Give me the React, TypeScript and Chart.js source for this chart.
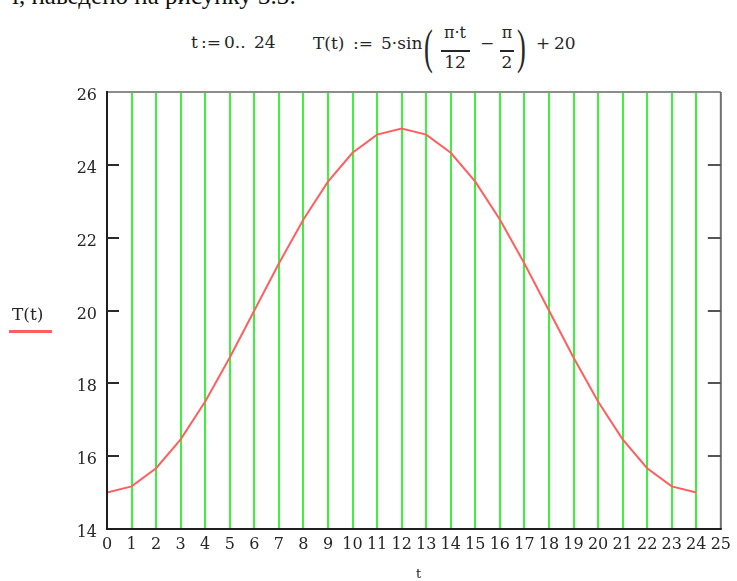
import React, { useEffect, useRef } from "react";
import { Chart, registerables } from "chart.js";

Chart.register(...registerables);

// t := 0..24, daily temperature curve
const hours = [0, 1, 2, 3, 4, 5, 6, 7, 8, 9, 10, 11, 12, 13, 14, 15, 16, 17, 18, 19, 20, 21, 22, 23, 24];
const temperatures = [
  15, 15.17, 15.67, 16.46, 17.5, 18.71, 20, 21.29, 22.5, 23.54, 24.33, 24.83, 25,
  24.83, 24.33, 23.54, 22.5, 21.29, 20, 18.71, 17.5, 16.46, 15.67, 15.17, 15,
];
const xTickValues = [0, 1, 2, 3, 4, 5, 6, 7, 8, 9, 10, 11, 12, 13, 14, 15, 16, 17, 18, 19, 20, 21, 22, 23, 24, 25];
const yTickValues = [14, 16, 18, 20, 22, 24, 26];

const SERIF = "'DejaVu Serif', 'Liberation Serif', serif";
const INK = "#262626";
const GRID_GREEN = "rgb(60, 242, 60)";
const CURVE_RED = "rgb(255, 95, 95)";

// Frame around the plot with inward ticks on both value axes (Mathcad style)
const framePlugin = {
  id: "mathcadFrame",
  afterDatasetsDraw(chart: any) {
    const { ctx, chartArea } = chart;
    const { left, right, top, bottom } = chartArea;
    const y = chart.scales.y;
    ctx.save();
    ctx.lineWidth = 2;
    // top and right edges are grey
    ctx.strokeStyle = "#8c8c8c";
    ctx.beginPath();
    ctx.moveTo(left, top);
    ctx.lineTo(right, top);
    ctx.stroke();
    ctx.strokeStyle = "#707070";
    ctx.beginPath();
    ctx.moveTo(right, top);
    ctx.lineTo(right, bottom);
    ctx.stroke();
    // left and bottom axes are dark
    ctx.strokeStyle = "#1e1e1e";
    ctx.beginPath();
    ctx.moveTo(left, top - 1);
    ctx.lineTo(left, bottom);
    ctx.lineTo(right + 1, bottom);
    ctx.stroke();
    // inward ticks
    for (const v of yTickValues) {
      if (v === y.min || v === y.max) continue;
      const py = Math.round(y.getPixelForValue(v));
      ctx.strokeStyle = "#2a2a2a";
      ctx.beginPath();
      ctx.moveTo(left, py);
      ctx.lineTo(left + 12, py);
      ctx.stroke();
      ctx.strokeStyle = "#555";
      ctx.beginPath();
      ctx.moveTo(right, py);
      ctx.lineTo(right - 13, py);
      ctx.stroke();
    }
    ctx.restore();
  },
};

type TxtProps = {
  x: number;
  base: number;
  size: number;
  children: React.ReactNode;
  center?: boolean;
  family?: string;
  color?: string;
  scaleX?: number;
  spacing?: number;
};

function Txt({ x, base, size, children, center, family, color, scaleX, spacing }: TxtProps) {
  const transforms: string[] = [];
  if (center) transforms.push("translateX(-50%)");
  if (scaleX) transforms.push(`scaleX(${scaleX})`);
  return (
    <div
      style={{
        position: "absolute",
        left: x,
        top: base - size * 0.84,
        fontSize: size,
        lineHeight: `${size}px`,
        fontFamily: family || SERIF,
        color: color || INK,
        whiteSpace: "nowrap",
        transform: transforms.join(" ") || undefined,
        transformOrigin: "left top",
        letterSpacing: spacing,
      }}
    >
      {children}
    </div>
  );
}

function Bar({ x1, x2, y }: { x1: number; x2: number; y: number }) {
  return <div style={{ position: "absolute", left: x1, top: y, width: x2 - x1, height: 1.5, background: INK }} />;
}

export default function App() {
  const canvasRef = useRef<HTMLCanvasElement>(null);

  useEffect(() => {
    if (!canvasRef.current) return;
    const chart = new Chart(canvasRef.current, {
      type: "line",
      data: {
        datasets: [
          {
            label: "T(t)",
            data: hours.map((t, i) => ({ x: t, y: temperatures[i] })),
            borderColor: CURVE_RED,
            borderWidth: 2,
            pointRadius: 0,
            tension: 0,
            fill: false,
          },
        ],
      },
      options: {
        animation: false,
        responsive: false,
        devicePixelRatio: 1,
        layout: { padding: { left: 0, top: 92, right: 13.5, bottom: 0 } },
        plugins: {
          legend: { display: false },
          tooltip: { enabled: false },
        },
        scales: {
          x: {
            type: "linear",
            min: 0,
            max: 25,
            afterBuildTicks: (s: any) => {
              s.ticks = xTickValues.map((v) => ({ value: v }));
            },
            afterFit: (s: any) => {
              s.height = 52;
            },
            border: { display: false },
            grid: {
              drawTicks: false,
              lineWidth: 2,
              color: (c: any) => (c.tick && c.tick.value >= 1 && c.tick.value <= 24 ? GRID_GREEN : "rgba(0,0,0,0)"),
            },
            ticks: {
              autoSkip: false,
              maxRotation: 0,
              minRotation: 0,
              padding: 6,
              color: INK,
              font: { family: SERIF, size: 16 },
              callback: (v: any) => String(v),
            },
          },
          y: {
            type: "linear",
            min: 14,
            max: 26,
            afterBuildTicks: (s: any) => {
              s.ticks = yTickValues.map((v) => ({ value: v }));
            },
            afterFit: (s: any) => {
              s.width = 107;
            },
            border: { display: false },
            grid: { display: false, drawTicks: false },
            ticks: {
              padding: 10,
              labelOffset: 4,
              color: INK,
              font: { family: SERIF, size: 16 },
              callback: (v: any) => String(v),
            },
          },
        },
      },
      plugins: [framePlugin],
    });
    return () => chart.destroy();
  }, []);

  return (
    <div
      style={{
        position: "absolute",
        left: 0,
        top: 0,
        width: 737,
        height: 581,
        overflow: "hidden",
        background: "#fff",
      }}
    >
      {/* running text of the page, its top cut by the page edge */}
      <Txt x={12} base={4} size={25} family="'Liberation Serif', serif" color="#111">
        і, наведено на рисунку 3.3:
      </Txt>

      {/* definitions */}
      <Txt x={191} base={48} size={17}>t</Txt>
      <Txt x={201} base={48} size={17}>:=</Txt>
      <Txt x={224} base={48} size={17}>0..</Txt>
      <Txt x={254} base={48} size={17}>24</Txt>

      <Txt x={313} base={49} size={17}>T(t)</Txt>
      <Txt x={353} base={49} size={17}>:=</Txt>
      <Txt x={381} base={49} size={17}>5·sin</Txt>
      <Txt x={424} base={63} size={48} scaleX={0.55} family="'Liberation Serif', serif">(</Txt>
      <Txt x={455} base={38} size={16} center>π·t</Txt>
      <Bar x1={441} x2={470} y={50} />
      <Txt x={455} base={68} size={17} center>12</Txt>
      <Txt x={480} base={49} size={17}>−</Txt>
      <Txt x={507} base={38} size={16} center>π</Txt>
      <Bar x1={500} x2={514} y={50} />
      <Txt x={507} base={68} size={17} center>2</Txt>
      <Txt x={517} base={63} size={48} scaleX={0.55} family="'Liberation Serif', serif">)</Txt>
      <Txt x={536} base={49} size={17}>+</Txt>
      <Txt x={554} base={49} size={17}>20</Txt>

      <canvas ref={canvasRef} width={737} height={581} style={{ position: "absolute", left: 0, top: 0 }} />

      {/* value-axis caption with its trace sample */}
      <Txt x={12} base={320} size={17}>T(t)</Txt>
      <div style={{ position: "absolute", left: 9, top: 330, width: 43, height: 3, background: CURVE_RED }} />

      {/* argument-axis caption */}
      <Txt x={416} base={578} size={13}>t</Txt>
    </div>
  );
}
